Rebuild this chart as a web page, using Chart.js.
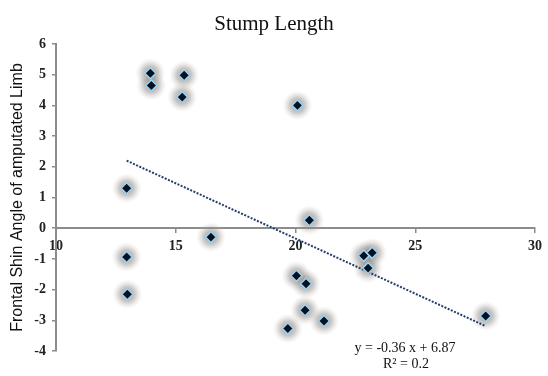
<!DOCTYPE html>
<html>
<head>
<meta charset="utf-8">
<script src="https://cdn.jsdelivr.net/npm/chart.js@4"></script>
<style>
html,body{margin:0;padding:0;background:#fff;}
#wrap{width:548px;height:376px;}
</style>
</head>
<body>
<div id="wrap"><canvas id="c" width="548" height="376"></canvas></div>
<script>
const stumpLength = [12.95, 12.95, 12.98, 13.94, 13.98, 15.35, 15.27, 16.47, 20.08, 20.58, 22.85, 23.2, 23.03, 20.04, 20.44, 20.4, 21.19, 19.68, 27.94];
const shinAngle   = [1.30, -0.94, -2.15, 5.05, 4.65, 4.98, 4.27, -0.29, 4.0, 0.26, -0.9, -0.8, -1.3, -1.55, -1.81, -2.67, -3.02, -3.27, -2.86];
const trendX = [12.95, 27.94];
const trendY = [2.20, -3.19];
const xTicks = [10, 15, 20, 25, 30];
const yTicks = [6, 5, 4, 3, 2, 1, 0, -1, -2, -3, -4];
const titleText = 'Stump Length';
const yTitle = 'Frontal Shin Angle of amputated Limb';
const eqLines = ['y = -0.36 x + 6.87', 'R² = 0.2'];

const points = stumpLength.map((x, i) => ({x: x, y: shinAngle[i]}));
const trend = trendX.map((x, i) => ({x: x, y: trendY[i]}));

const glowPlugin = {
  id: 'glow',
  beforeDatasetsDraw(chart) {
    const ctx = chart.ctx;
    const meta = chart.getDatasetMeta(1);
    ctx.save();
    meta.data.forEach(pt => {
      const g = ctx.createRadialGradient(pt.x, pt.y, 0, pt.x, pt.y, 15);
      g.addColorStop(0, 'rgba(120,112,105,0.75)');
      g.addColorStop(0.5, 'rgba(140,134,128,0.45)');
      g.addColorStop(1, 'rgba(200,198,195,0)');
      ctx.fillStyle = g;
      ctx.beginPath();
      ctx.arc(pt.x, pt.y, 15, 0, Math.PI * 2);
      ctx.fill();
    });
    ctx.restore();
  }
};

const textPlugin = {
  id: 'texts',
  afterDraw(chart) {
    const ctx = chart.ctx;
    ctx.save();
    ctx.fillStyle = '#111';
    ctx.textAlign = 'center';
    ctx.textBaseline = 'middle';
    ctx.font = '21px "Liberation Serif", "Times New Roman", serif';
    ctx.fillText(titleText, 274, 24);
    ctx.font = '14px "Liberation Serif", "Times New Roman", serif';
    ctx.fillText(eqLines[0], 405, 348);
    ctx.fillText(eqLines[1], 406, 364);
    ctx.restore();
  }
};

new Chart(document.getElementById('c'), {
  data: {
    datasets: [
      {
        type: 'line',
        data: trend,
        borderColor: '#233d6b',
        borderWidth: 2,
        borderDash: [2, 1.5],
        pointRadius: 0,
        fill: false,
        order: 2
      },
      {
        type: 'scatter',
        data: points,
        pointStyle: 'rectRot',
        pointRadius: 5.5,
        pointHoverRadius: 5.5,
        backgroundColor: '#07101f',
        borderColor: '#9ad2f4',
        borderWidth: 1.5,
        order: 1
      }
    ]
  },
  plugins: [glowPlugin, textPlugin],
  options: {
    responsive: false,
    animation: false,
    events: [],
    layout: {padding: {left: 0, top: 44, right: 9, bottom: 25}},
    plugins: {legend: {display: false}, tooltip: {enabled: false}, title: {display: false}},
    scales: {
      x: {
        type: 'linear',
        position: {y: 0},
        min: 10, max: 30,
        afterBuildTicks(s) { s.ticks = xTicks.map(v => ({value: v})); },
        border: {display: true, color: '#8c8c8c', width: 2},
        grid: {display: true, drawOnChartArea: false, drawTicks: true, tickLength: 4, color: '#8c8c8c', lineWidth: 1.5},
        ticks: {padding: 6, color: '#222', font: {family: '"Liberation Serif", "Times New Roman", serif', size: 14, weight: 'bold'}, maxRotation: 0}
      },
      y: {
        type: 'linear',
        position: 'left',
        min: -4, max: 6,
        afterBuildTicks(s) { s.ticks = yTicks.map(v => ({value: v})); },
        afterFit(s) { s.width = 56; },
        border: {display: true, color: '#8c8c8c', width: 2},
        grid: {display: true, drawOnChartArea: false, drawTicks: true, tickLength: 4, color: '#8c8c8c', lineWidth: 1.5},
        ticks: {padding: 6, color: '#222', font: {family: '"Liberation Serif", "Times New Roman", serif', size: 14, weight: 'bold'}},
        title: {display: true, text: yTitle, color: '#111', padding: {top: 8, bottom: 2}, font: {family: '"Liberation Sans", Arial, sans-serif', size: 16}}
      }
    }
  }
});
</script>
</body>
</html>
